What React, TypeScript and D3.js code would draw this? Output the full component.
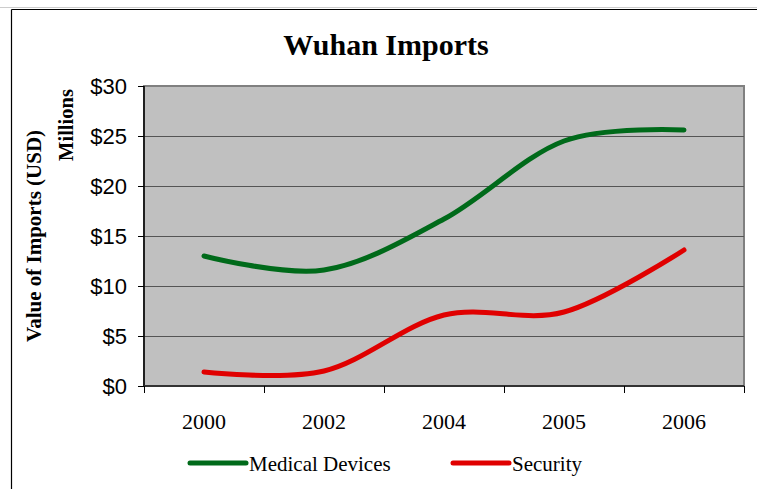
import { useEffect, useRef } from "react";
import * as d3 from "d3";

const years = ["2000", "2002", "2004", "2005", "2006"];
const medicalDevices = [13.0, 11.6, 16.7, 24.5, 25.6];
const security = [1.4, 1.5, 7.1, 7.4, 13.6];
const yTicks = [0, 5, 10, 15, 20, 25, 30];

const W = 757;
const H = 489;

export default function App() {
  const ref = useRef<SVGSVGElement | null>(null);

  useEffect(() => {
    const svg = d3.select(ref.current);
    svg.selectAll("*").remove();

    const m = { t: 86, r: 13, b: 103, l: 144 };
    const w = W - m.l - m.r;
    const h = H - m.t - m.b;

    // outer frame
    svg.append("rect").attr("width", W).attr("height", H).attr("fill", "#fff");
    svg.append("line").attr("x1", 0).attr("x2", W).attr("y1", 7.5).attr("y2", 7.5).attr("stroke", "#ccc");
    svg.append("line").attr("x1", 11.5).attr("x2", W).attr("y1", 9.5).attr("y2", 9.5).attr("stroke", "#000").attr("stroke-width", 1.2);
    svg.append("line").attr("x1", 11.5).attr("x2", 11.5).attr("y1", 9.5).attr("y2", H).attr("stroke", "#000").attr("stroke-width", 1.2);

    const g = svg.append("g").attr("transform", `translate(${m.l},${m.t})`);

    const x = d3.scaleBand<string>().domain(years).range([0, w]);
    const y = d3.scaleLinear().domain([0, 30]).range([h, 0]);
    const cx = (i: number) => (x(years[i]) ?? 0) + x.bandwidth() / 2;

    // plot background
    g.append("rect")
      .attr("width", w)
      .attr("height", h)
      .attr("fill", "#c0c0c0")
      .attr("stroke", "#808080")
      .attr("stroke-width", 2);

    // gridlines + y labels
    yTicks.forEach((tv) => {
      if (tv > 0 && tv < 30) {
        g.append("line")
          .attr("x1", 0)
          .attr("x2", w)
          .attr("y1", y(tv) + 0.5)
          .attr("y2", y(tv) + 0.5)
          .attr("stroke", "#555");
      }
      g.append("line")
        .attr("x1", -6)
        .attr("x2", 0)
        .attr("y1", y(tv) + 0.5)
        .attr("y2", y(tv) + 0.5)
        .attr("stroke", "#000");
      g.append("text")
        .attr("x", -17)
        .attr("y", y(tv) + 8)
        .attr("text-anchor", "end")
        .attr("font-family", "Liberation Sans, Arial, sans-serif")
        .attr("font-size", 22)
        .attr("fill", "#000")
        .text(`$${tv}`);
    });

    // axes
    g.append("line").attr("x1", 0).attr("x2", 0).attr("y1", 0).attr("y2", h).attr("stroke", "#000").attr("stroke-width", 1.5);
    g.append("line").attr("x1", 0).attr("x2", w).attr("y1", h).attr("y2", h).attr("stroke", "#333").attr("stroke-width", 2);

    // x ticks at band boundaries
    d3.range(years.length + 1).forEach((i) => {
      const xv = i * x.step();
      g.append("line")
        .attr("x1", xv + 0.5)
        .attr("x2", xv + 0.5)
        .attr("y1", h)
        .attr("y2", h + 7)
        .attr("stroke", "#000");
    });

    years.forEach((yr, i) => {
      g.append("text")
        .attr("x", cx(i))
        .attr("y", h + 43)
        .attr("text-anchor", "middle")
        .attr("font-family", "Liberation Serif, Times New Roman, serif")
        .attr("font-size", 22)
        .attr("fill", "#000")
        .text(yr);
    });

    const line = d3
      .line<number>()
      .x((_, i) => cx(i))
      .y((d) => y(d))
      .curve(d3.curveCatmullRom.alpha(0));

    const series = [
      { name: "Medical Devices", values: medicalDevices, color: "#006a1a" },
      { name: "Security", values: security, color: "#e00000" },
    ];

    series.forEach((s) => {
      g.append("path")
        .datum(s.values)
        .attr("fill", "none")
        .attr("stroke", s.color)
        .attr("stroke-width", 5)
        .attr("stroke-linecap", "round")
        .attr("stroke-linejoin", "round")
        .attr("d", line);
    });

    // title
    svg.append("text")
      .attr("x", 386)
      .attr("y", 55)
      .attr("text-anchor", "middle")
      .attr("font-family", "Liberation Serif, Times New Roman, serif")
      .attr("font-weight", "bold")
      .attr("font-size", 30)
      .attr("fill", "#000")
      .text("Wuhan Imports");

    // y axis titles
    svg.append("text")
      .attr("transform", `translate(41,236) rotate(-90)`)
      .attr("text-anchor", "middle")
      .attr("font-family", "Liberation Serif, Times New Roman, serif")
      .attr("font-weight", "bold")
      .attr("font-size", 21)
      .attr("fill", "#000")
      .text("Value of Imports (USD)");
    svg.append("text")
      .attr("transform", `translate(73,125) rotate(-90)`)
      .attr("text-anchor", "middle")
      .attr("font-family", "Liberation Serif, Times New Roman, serif")
      .attr("font-weight", "bold")
      .attr("font-size", 20.5)
      .attr("fill", "#000")
      .text("Millions");

    // legend
    const legendX = [190, 453];
    series.forEach((s, i) => {
      const lx = legendX[i];
      svg.append("line")
        .attr("x1", lx)
        .attr("x2", lx + 56)
        .attr("y1", 463)
        .attr("y2", 463)
        .attr("stroke", s.color)
        .attr("stroke-width", 5)
        .attr("stroke-linecap", "round");
      svg.append("text")
        .attr("x", lx + 59)
        .attr("y", 471)
        .attr("font-family", "Liberation Serif, Times New Roman, serif")
        .attr("font-size", 21)
        .attr("fill", "#000")
        .text(s.name);
    });
  }, []);

  return (
    <svg
      ref={ref}
      width={W}
      height={H}
      style={{ position: "absolute", left: 0, top: 0, display: "block" }}
    />
  );
}
